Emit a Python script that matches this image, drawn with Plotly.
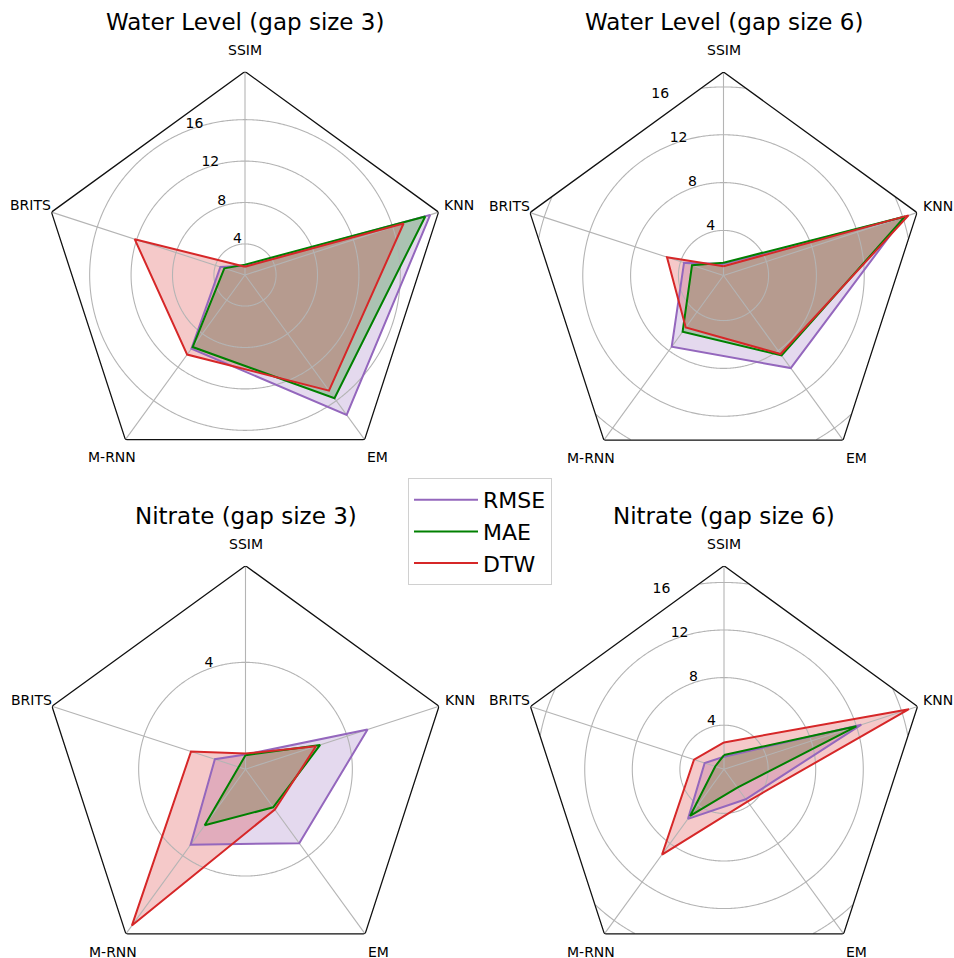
import numpy as np
import plotly.graph_objects as go

# ---------------- data ----------------
categories = ["SSIM", "BRITS", "M-RNN", "EM", "KNN"]   # counter-clockwise from top
metrics = ["RMSE", "MAE", "DTW"]
titles = ["Water Level (gap size 3)", "Water Level (gap size 6)",
          "Nitrate (gap size 3)", "Nitrate (gap size 6)"]

wl3_rmse = [1.9, 3.5, 9.8, 17.7, 19.8]
wl3_mae = [2.0, 3.1, 9.6, 15.7, 19.3]
wl3_dtw = [1.8, 12.2, 10.5, 14.8, 17.1]

wl6_rmse = [1.2, 3.7, 7.6, 9.8, 16.1]
wl6_mae = [1.3, 3.0, 6.05, 8.5, 16.2]
wl6_dtw = [1.0, 5.2, 5.6, 8.35, 16.5]

ni3_rmse = [0.65, 1.29, 3.51, 3.44, 4.78]
ni3_mae = [0.63, 0.38, 2.64, 1.83, 2.97]
ni3_dtw = [0.69, 2.20, 7.14, 1.93, 2.81]

ni6_rmse = [1.35, 2.0, 5.44, 3.4, 12.43]
ni6_mae = [1.49, 1.07, 5.14, 2.2, 11.99]
ni6_dtw = [2.55, 2.94, 9.15, 3.64, 16.64]

radial_ranges = [[1.0, 20.65], [0.23, 17.25], [0.12, 7.51], [0.29, 17.4]]
radial_ticks = [4, 8, 12, 16]

panels = [
    [wl3_rmse, wl3_mae, wl3_dtw],
    [wl6_rmse, wl6_mae, wl6_dtw],
    [ni3_rmse, ni3_mae, ni3_dtw],
    [ni6_rmse, ni6_mae, ni6_dtw],
]

# ---------------- style / geometry ----------------
OFF = 0                     # page body margin (removed by post_script)
W, H = 954, 974             # figure size (bottom few px fall outside the window)
FONT = "DejaVu Sans"
line_colors = ["#9467bd", "#008000", "#d62728"]
fill_colors = ["rgba(148,103,189,0.25)", "rgba(0,128,0,0.25)", "rgba(214,39,40,0.25)"]
GRID = "#b4b4b4"
R_PX = 203.5
centers = [(245, 275), (723.5, 275.5), (245.5, 769.2), (724, 769.3)]   # page px


def px(x):
    return (x - OFF) / W


def py(y):
    return 1 - (y - OFF) / H


N = len(categories)
angles = [i * 360.0 / N for i in range(N)]

fig = go.Figure()
layout_polars = {}
annotations = []

for p, (series, rng) in enumerate(zip(panels, radial_ranges)):
    pid = "polar" if p == 0 else f"polar{p + 1}"
    v0, vmax = rng
    th_closed = angles + [angles[0]]

    # fills (below grid)
    for m, vals in enumerate(series):
        fig.add_trace(go.Scatterpolar(
            r=list(vals) + [vals[0]], theta=th_closed, mode="lines",
            line=dict(width=0, color=line_colors[m]), fill="toself",
            fillcolor=fill_colors[m], showlegend=False, hoverinfo="skip",
            subplot=pid))

    # grid circles clipped to the pentagon frame
    th = np.arange(0, 360.5, 0.5)
    delta = np.radians((th % 72.0) - 36.0)
    bound = np.cos(np.radians(36)) / np.cos(delta)
    gr, gt = [], []
    for t in radial_ticks:
        rel = (t - v0) / (vmax - v0)
        for a, b in zip(th, bound):
            gr.append(t if rel <= b else None)
            gt.append(a)
        gr.append(None)
        gt.append(None)
    fig.add_trace(go.Scatterpolar(r=gr, theta=gt, mode="lines",
                                  line=dict(color=GRID, width=1.1), showlegend=False,
                                  hoverinfo="skip", subplot=pid))
    # spokes
    sr, st = [], []
    for a in angles:
        sr += [v0, vmax, None]
        st += [a, a, None]
    fig.add_trace(go.Scatterpolar(r=sr, theta=st, mode="lines",
                                  line=dict(color=GRID, width=1.1), showlegend=False,
                                  hoverinfo="skip", subplot=pid))

    # lines
    for m, vals in enumerate(series):
        fig.add_trace(go.Scatterpolar(
            r=list(vals) + [vals[0]], theta=th_closed, mode="lines",
            line=dict(width=2, color=line_colors[m]), name=metrics[m],
            showlegend=(p == 0), hoverinfo="skip", subplot=pid))

    # pentagon frame
    fig.add_trace(go.Scatterpolar(r=[vmax] * (N + 1), theta=th_closed, mode="lines",
                                  line=dict(color="#111111", width=1.3), showlegend=False,
                                  hoverinfo="skip", subplot=pid))

    # radial tick labels
    fig.add_trace(go.Scatterpolar(r=radial_ticks, theta=[22.5] * len(radial_ticks),
                                  mode="text", text=[str(t) for t in radial_ticks],
                                  textposition="top right",
                                  textfont=dict(family=FONT, size=14, color="black"),
                                  showlegend=False, hoverinfo="skip", subplot=pid))

    cx, cy = centers[p]
    layout_polars[pid] = dict(
        domain=dict(x=[px(cx - R_PX), px(cx + R_PX)], y=[py(cy + R_PX), py(cy - R_PX)]),
        bgcolor="rgba(0,0,0,0)",
        radialaxis=dict(range=rng, showline=False, showgrid=False, ticks="",
                        showticklabels=False),
        angularaxis=dict(rotation=90, direction="counterclockwise",
                         showline=False, showgrid=False, showticklabels=False,
                         ticks=""),
    )

    # category labels around the frame
    r_lab = 1.108 * R_PX
    for cat, a in zip(categories, angles):
        ang = np.radians(90 + a)
        annotations.append(dict(text=cat, x=px(cx + r_lab * np.cos(ang)),
                                y=py(cy - r_lab * np.sin(ang)), xref="paper", yref="paper",
                                xanchor="center", yanchor="middle", showarrow=False,
                                font=dict(family=FONT, size=14, color="black")))

    # title
    annotations.append(dict(text=titles[p], x=px(cx), y=py(cy - 253), xref="paper",
                            yref="paper", xanchor="center", yanchor="middle",
                            showarrow=False,
                            font=dict(family=FONT, size=23, color="black")))

fig.update_layout(
    width=W, height=H,
    margin=dict(l=0, r=0, t=0, b=0),
    paper_bgcolor="white", plot_bgcolor="white",
    font=dict(family=FONT, color="black"),
    annotations=annotations,
    legend=dict(x=px(408), y=py(478), xanchor="left", yanchor="top",
                bgcolor="white", bordercolor="#d0d0d0", borderwidth=1,
                tracegroupgap=0,
                font=dict(family=FONT, size=22, color="black"), itemwidth=64),
    **layout_polars,
)

fig.write_html(
    "out.html",
    config={"displayModeBar": False},
    post_script="document.body.style.margin='0';"
                "document.documentElement.style.overflow='hidden';",
)
